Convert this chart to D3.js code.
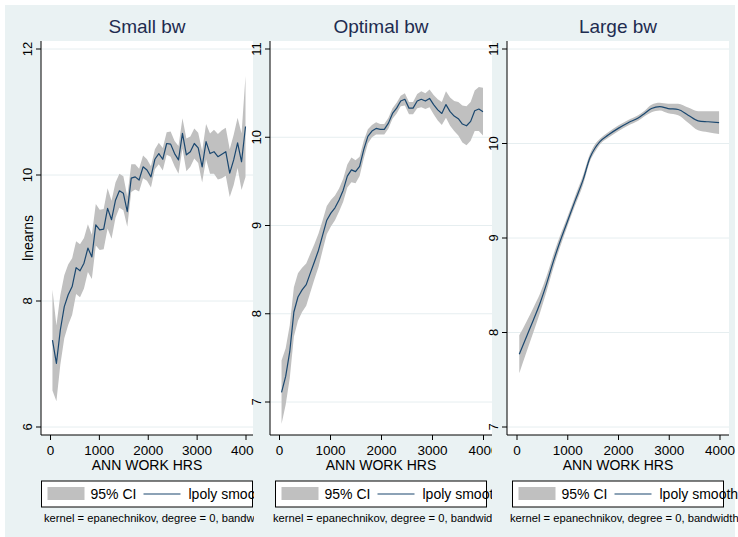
<!DOCTYPE html>
<html lang="en">
<head>
<meta charset="UTF-8">
<title>lpoly bandwidth comparison</title>
<script src="https://cdn.jsdelivr.net/npm/d3@7/dist/d3.min.js"></script>
<style>
  body { margin: 0; background: #fff; }
  svg { display: block; font-family: "Liberation Sans", Arial, Helvetica, sans-serif; }
</style>
</head>
<body>
<svg width="738" height="537"></svg>
<script>
// evaluation grid (annual work hours) shared by small / optimal bw
const hours = [40, 121, 201, 282, 362, 443, 524, 604, 685, 765, 846, 927, 1007, 1088, 1168, 1249, 1330,
  1410, 1491, 1571, 1652, 1733, 1813, 1894, 1974, 2055, 2136, 2216, 2297, 2377, 2458, 2539, 2619,
  2700, 2780, 2861, 2942, 3022, 3103, 3183, 3264, 3345, 3425, 3506, 3586, 3667, 3748, 3828, 3909, 3990];

// small bandwidth smooth + CI half width
const smallFit = [7.38, 7.01, 7.54, 7.91, 8.10, 8.23, 8.53, 8.48, 8.60, 8.84, 8.70, 9.21, 9.13, 9.14,
  9.47, 9.29, 9.60, 9.75, 9.71, 9.42, 9.95, 9.97, 9.92, 10.13, 10.08, 9.97, 10.25, 10.34, 10.25,
  10.50, 10.49, 10.34, 10.24, 10.66, 10.32, 10.37, 10.50, 10.43, 10.13, 10.53, 10.34, 10.37, 10.29,
  10.33, 10.37, 10.03, 10.24, 10.51, 10.21, 10.77];
const smallHalf = [0.80, 0.60, 0.55, 0.50, 0.48, 0.45, 0.42, 0.42, 0.40, 0.38, 0.35, 0.33, 0.32, 0.32,
  0.32, 0.30, 0.28, 0.27, 0.27, 0.24, 0.22, 0.20, 0.18, 0.18, 0.17, 0.17, 0.16, 0.17, 0.18, 0.18,
  0.20, 0.20, 0.22, 0.24, 0.26, 0.24, 0.24, 0.24, 0.25, 0.28, 0.32, 0.35, 0.36, 0.38, 0.38, 0.38,
  0.40, 0.40, 0.45, 0.80];

// optimal bandwidth
const optFit = [7.11, 7.29, 7.57, 8.02, 8.19, 8.27, 8.33, 8.46, 8.59, 8.72, 8.89, 9.06, 9.14, 9.20,
  9.29, 9.40, 9.56, 9.63, 9.61, 9.67, 9.86, 10.01, 10.07, 10.10, 10.09, 10.09, 10.16, 10.27, 10.33,
  10.41, 10.43, 10.33, 10.33, 10.41, 10.43, 10.41, 10.44, 10.37, 10.31, 10.27, 10.37, 10.29, 10.24,
  10.21, 10.15, 10.13, 10.18, 10.30, 10.32, 10.29];
const optHalf = [0.36, 0.32, 0.30, 0.28, 0.27, 0.25, 0.24, 0.22, 0.20, 0.19, 0.17, 0.16, 0.15, 0.14,
  0.13, 0.13, 0.13, 0.14, 0.13, 0.11, 0.10, 0.08, 0.07, 0.07, 0.06, 0.06, 0.06, 0.06, 0.06, 0.06,
  0.07, 0.07, 0.07, 0.08, 0.09, 0.09, 0.10, 0.11, 0.12, 0.13, 0.15, 0.16, 0.17, 0.19, 0.21, 0.22,
  0.22, 0.23, 0.25, 0.27];

// large bandwidth (smooth, read at fewer points)
const largeHours = [45, 191, 321, 453, 585, 715, 846, 990, 1142, 1305, 1437, 1535, 1634, 1797, 1994,
  2191, 2388, 2520, 2651, 2815, 2978, 3175, 3372, 3569, 3766, 3982];
const largeFit = [7.77, 7.96, 8.13, 8.31, 8.52, 8.75, 8.96, 9.17, 9.39, 9.62, 9.85, 9.95, 10.02, 10.09,
  10.16, 10.22, 10.27, 10.32, 10.37, 10.39, 10.37, 10.36, 10.30, 10.24, 10.23, 10.22];
const largeHalf = [0.20, 0.16, 0.13, 0.10, 0.08, 0.07, 0.06, 0.05, 0.05, 0.05, 0.04, 0.04, 0.03, 0.03,
  0.03, 0.03, 0.03, 0.03, 0.04, 0.04, 0.05, 0.06, 0.08, 0.10, 0.11, 0.12];

const titles = ["Small bw", "Optimal bw", "Large bw"];
const xTicks = [0, 1000, 2000, 3000, 4000];
const yTicksSmall = [6, 8, 10, 12];
const yTicksOther = [7, 8, 9, 10, 11];
const xTitle = "ANN WORK HRS";
const yTitle = "lnearns";
const legendLabels = ["95% CI", "lpoly smooth"];
const note = "kernel = epanechnikov, degree = 0, bandwidth";

const navy = "#1a476f", ciGray = "#c0c0c0", bgCol = "#eaf2f3", gridCol = "#e6eef0", titleCol = "#1e2c50";

let svg = d3.select("svg");
svg.append("rect").attr("width", 738).attr("height", 537).attr("fill", "#fff");

const panels = [
  { title: titles[0], xs: hours, fit: smallFit, half: smallHalf, yTicks: yTicksSmall,
    yDom: [6, 12], yRan: [427, 49], bgX: 5, bgW: 249, left: 41, right: 253, x0: 50.5, x4: 246,
    curve: d3.curveLinear, ytitle: yTitle },
  { title: titles[1], xs: hours, fit: optFit, half: optHalf, yTicks: yTicksOther,
    yDom: [7, 11], yRan: [402, 49], bgX: 254, bgW: 238, left: 270, right: 492, x0: 279.5, x4: 483.5,
    curve: d3.curveLinear },
  { title: titles[2], xs: largeHours, fit: largeFit, half: largeHalf, yTicks: yTicksOther,
    yDom: [7, 11], yRan: [427, 49], bgX: 492, bgW: 243, left: 507, right: 729, x0: 517, x4: 720,
    curve: d3.curveMonotoneX }
];

const plotTop = 41, plotBottom = 435;

panels.forEach(function (p) {
  const g = svg.append("g");
  const x = d3.scaleLinear().domain([0, 4000]).range([p.x0, p.x4]);
  const y = d3.scaleLinear().domain(p.yDom).range(p.yRan);
  const cx = (p.left + p.right) / 2;

  // panel background and plot region
  g.append("rect").attr("x", p.bgX).attr("y", 5).attr("width", p.bgW).attr("height", 532).attr("fill", bgCol);
  g.append("rect").attr("x", p.left).attr("y", plotTop).attr("width", p.right - p.left)
    .attr("height", plotBottom - plotTop).attr("fill", "#fff");

  // gridlines
  g.selectAll(".grid").data(p.yTicks).enter().append("line")
    .attr("x1", p.left).attr("x2", p.right)
    .attr("y1", d => y(d)).attr("y2", d => y(d))
    .attr("stroke", gridCol).attr("stroke-width", 1);

  const rows = p.xs.map((h, i) => ({ h: h, v: p.fit[i], lo: p.fit[i] - p.half[i], hi: p.fit[i] + p.half[i] }));

  // CI band
  g.append("path").datum(rows)
    .attr("d", d3.area().x(d => x(d.h)).y0(d => y(d.lo)).y1(d => y(d.hi)).curve(p.curve))
    .attr("fill", ciGray);

  // smooth
  g.append("path").datum(rows)
    .attr("d", d3.line().x(d => x(d.h)).y(d => y(d.v)).curve(p.curve))
    .attr("fill", "none").attr("stroke", navy).attr("stroke-width", 1.2)
    .attr("stroke-linejoin", "round");

  // axes
  g.append("line").attr("x1", p.left).attr("x2", p.left).attr("y1", plotTop).attr("y2", plotBottom)
    .attr("stroke", "#000").attr("stroke-width", 1);
  g.append("line").attr("x1", p.left).attr("x2", p.right).attr("y1", plotBottom).attr("y2", plotBottom)
    .attr("stroke", "#000").attr("stroke-width", 1);

  g.selectAll(".yt").data(p.yTicks).enter().append("line")
    .attr("x1", p.left - 5).attr("x2", p.left)
    .attr("y1", d => y(d)).attr("y2", d => y(d)).attr("stroke", "#000");
  g.selectAll(".yl").data(p.yTicks).enter().append("text")
    .attr("transform", d => "translate(" + (p.left - 9) + "," + y(d) + ") rotate(-90)")
    .attr("text-anchor", "middle").attr("font-size", 13).attr("fill", "#000")
    .text(d => d);

  g.selectAll(".xt").data(xTicks).enter().append("line")
    .attr("x1", d => x(d)).attr("x2", d => x(d))
    .attr("y1", plotBottom).attr("y2", plotBottom + 5).attr("stroke", "#000");
  g.selectAll(".xl").data(xTicks).enter().append("text")
    .attr("x", d => x(d)).attr("y", 455)
    .attr("text-anchor", "middle").attr("font-size", 13.5).attr("fill", "#000")
    .text(d => d);

  g.append("text").attr("x", cx).attr("y", 470).attr("text-anchor", "middle")
    .attr("font-size", 14).attr("fill", "#000").text(xTitle);

  if (p.ytitle) {
    g.append("text").attr("transform", "translate(33," + ((plotTop + plotBottom) / 2) + ") rotate(-90)")
      .attr("text-anchor", "middle").attr("font-size", 14).attr("fill", "#000").text(p.ytitle);
  }

  // title
  g.append("text").attr("x", cx).attr("y", 33).attr("text-anchor", "middle")
    .attr("font-size", 19).attr("fill", titleCol).text(p.title);

  // legend
  const bx = cx - 105.5;
  g.append("rect").attr("x", bx).attr("y", 481).attr("width", 211).attr("height", 26)
    .attr("fill", "#fff").attr("stroke", "#000").attr("stroke-width", 1);
  g.append("rect").attr("x", bx + 6).attr("y", 487).attr("width", 37).attr("height", 13).attr("fill", ciGray);
  g.append("text").attr("x", bx + 49).attr("y", 499).attr("font-size", 14).text(legendLabels[0]);
  g.append("line").attr("x1", bx + 102).attr("x2", bx + 139).attr("y1", 494).attr("y2", 494)
    .attr("stroke", navy).attr("stroke-width", 1.2);
  g.append("text").attr("x", bx + 147).attr("y", 499).attr("font-size", 14).text(legendLabels[1]);

  g.append("text").attr("x", p.left + 3).attr("y", 522).attr("font-size", 11.2).text(note);
});
</script>
</body>
</html>
